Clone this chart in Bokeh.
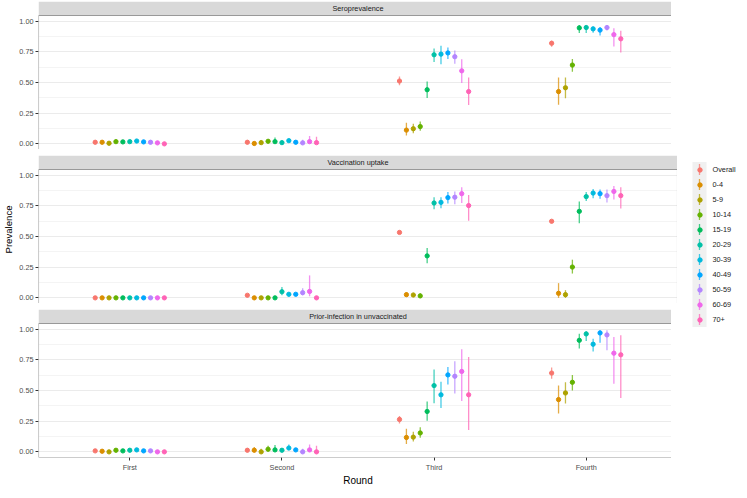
from bokeh.plotting import figure
from bokeh.layouts import column, row
from bokeh.models import (FactorRange, Range1d, FixedTicker, NumeralTickFormatter,
                          BoxAnnotation, Label, Legend, LegendItem, ColumnDataSource)
from bokeh.transform import dodge
from bokeh.embed import file_html
from bokeh.resources import INLINE

# ---------------- data ----------------
rounds = ["First", "Second", "Third", "Fourth"]
groups = ["Overall", "0-4", "5-9", "10-14", "15-19", "20-29", "30-39",
          "40-49", "50-59", "60-69", "70+"]
colors = ["#F8766D", "#DB8E00", "#AEA200", "#64B200", "#00BD5C", "#00C1A7",
          "#00BADE", "#00A6FF", "#B385FF", "#EF67EB", "#FF63B6"]
facet_titles = ["Seroprevalence", "Vaccination uptake", "Prior-infection in unvaccinated"]
y_ticks = [0.0, 0.25, 0.5, 0.75, 1.0]
y_minor = [0.125, 0.375, 0.625, 0.875]

# rows = groups, columns = rounds
sero_est = [
    [0.013, 0.013, 0.512, 0.820],
    [0.013, 0.003, 0.112, 0.426],
    [0.005, 0.010, 0.123, 0.457],
    [0.018, 0.021, 0.141, 0.642],
    [0.016, 0.018, 0.441, 0.945],
    [0.018, 0.010, 0.726, 0.948],
    [0.023, 0.026, 0.731, 0.937],
    [0.016, 0.013, 0.741, 0.927],
    [0.013, 0.008, 0.710, 0.948],
    [0.008, 0.018, 0.595, 0.890],
    [0.000, 0.010, 0.426, 0.856],
]
sero_lo = [
    [0.009, 0.009, 0.478, 0.791],
    [0.006, 0.000, 0.068, 0.319],
    [0.000, 0.003, 0.086, 0.371],
    [0.010, 0.010, 0.107, 0.587],
    [0.008, 0.007, 0.373, 0.903],
    [0.011, 0.004, 0.668, 0.903],
    [0.014, 0.016, 0.648, 0.906],
    [0.009, 0.007, 0.692, 0.883],
    [0.005, 0.000, 0.653, 0.924],
    [0.002, 0.003, 0.496, 0.794],
    [0.000, 0.000, 0.316, 0.744],
]
sero_hi = [
    [0.018, 0.018, 0.548, 0.841],
    [0.020, 0.010, 0.172, 0.540],
    [0.012, 0.029, 0.164, 0.540],
    [0.028, 0.039, 0.183, 0.692],
    [0.028, 0.052, 0.509, 0.969],
    [0.027, 0.018, 0.778, 0.966],
    [0.033, 0.039, 0.799, 0.956],
    [0.024, 0.021, 0.786, 0.953],
    [0.024, 0.034, 0.760, 0.966],
    [0.018, 0.063, 0.689, 0.943],
    [0.008, 0.057, 0.540, 0.922],
]

vacc_est = [
    [0.0, 0.021, 0.533, 0.624],
    [0.0, 0.000, 0.026, 0.037],
    [0.0, 0.000, 0.023, 0.026],
    [0.0, 0.000, 0.016, 0.251],
    [0.0, 0.000, 0.342, 0.705],
    [0.0, 0.050, 0.773, 0.825],
    [0.0, 0.029, 0.778, 0.854],
    [0.0, 0.029, 0.817, 0.849],
    [0.0, 0.042, 0.820, 0.833],
    [0.0, 0.052, 0.849, 0.867],
    [0.0, 0.000, 0.752, 0.833],
]
vacc_lo = [
    [0.0, 0.015, 0.520, 0.610],
    [0.0, 0.000, 0.008, 0.000],
    [0.0, 0.000, 0.008, 0.000],
    [0.0, 0.000, 0.000, 0.198],
    [0.0, 0.000, 0.282, 0.608],
    [0.0, 0.021, 0.723, 0.789],
    [0.0, 0.013, 0.731, 0.812],
    [0.0, 0.016, 0.768, 0.807],
    [0.0, 0.021, 0.762, 0.778],
    [0.0, 0.013, 0.773, 0.802],
    [0.0, 0.000, 0.629, 0.729],
]
vacc_hi = [
    [0.002, 0.028, 0.545, 0.637],
    [0.002, 0.003, 0.047, 0.120],
    [0.002, 0.003, 0.042, 0.063],
    [0.002, 0.003, 0.037, 0.311],
    [0.002, 0.003, 0.407, 0.786],
    [0.002, 0.089, 0.820, 0.862],
    [0.002, 0.044, 0.820, 0.888],
    [0.002, 0.042, 0.862, 0.883],
    [0.002, 0.078, 0.867, 0.883],
    [0.002, 0.183, 0.901, 0.911],
    [0.002, 0.003, 0.838, 0.901],
]

prior_est = [
    [0.008, 0.013, 0.264, 0.642],
    [0.005, 0.013, 0.117, 0.426],
    [0.000, 0.000, 0.120, 0.480],
    [0.013, 0.021, 0.154, 0.567],
    [0.008, 0.016, 0.329, 0.909],
    [0.013, 0.013, 0.540, 0.961],
    [0.016, 0.031, 0.465, 0.877],
    [0.008, 0.016, 0.627, 0.969],
    [0.008, 0.000, 0.616, 0.953],
    [0.000, 0.016, 0.655, 0.804],
    [0.000, 0.000, 0.465, 0.791],
]
prior_lo = [
    [0.004, 0.008, 0.232, 0.595],
    [0.000, 0.003, 0.065, 0.313],
    [0.000, 0.000, 0.084, 0.394],
    [0.006, 0.008, 0.115, 0.501],
    [0.002, 0.004, 0.253, 0.843],
    [0.006, 0.005, 0.397, 0.903],
    [0.007, 0.015, 0.358, 0.817],
    [0.003, 0.007, 0.548, 0.890],
    [0.002, 0.000, 0.475, 0.828],
    [0.000, 0.003, 0.415, 0.554],
    [0.000, 0.000, 0.178, 0.439],
]
prior_hi = [
    [0.013, 0.019, 0.292, 0.687],
    [0.012, 0.040, 0.188, 0.540],
    [0.006, 0.025, 0.164, 0.567],
    [0.022, 0.050, 0.201, 0.627],
    [0.020, 0.055, 0.410, 0.963],
    [0.022, 0.024, 0.671, 0.982],
    [0.030, 0.060, 0.572, 0.922],
    [0.016, 0.028, 0.692, 0.992],
    [0.020, 0.025, 0.739, 0.992],
    [0.008, 0.060, 0.836, 0.935],
    [0.006, 0.050, 0.773, 0.950],
]

facet_data = [(sero_est, sero_lo, sero_hi),
              (vacc_est, vacc_lo, vacc_hi),
              (prior_est, prior_lo, prior_hi)]

# ---------------- layout constants ----------------
FONT = "Liberation Sans"
FW = 639            # panel width
PANEL_H = 134
STRIP_H = 14
GAP = 6
TOP = 1
LEFT = 32
BOTTOM = 25
Y0, YP = -0.046, 1.046
YTOP = YP + (YP - Y0) * STRIP_H / PANEL_H
DODGE = 0.5
PT_SIZE = 4.3
LINE_W = 1.3
LINE_A = 0.72


def make_facet(k):
    first = k == 0
    last = k == len(facet_titles) - 1
    est, lo, hi = facet_data[k]
    p = figure(x_range=FactorRange(factors=rounds, range_padding=0.05),
               y_range=Range1d(Y0, YTOP),
               frame_width=FW, frame_height=PANEL_H + STRIP_H,
               output_backend="svg", toolbar_location=None,
               x_axis_location="below" if last else None,
               min_border_left=LEFT, min_border_right=0,
               min_border_top=TOP if first else GAP,
               min_border_bottom=BOTTOM if last else 0)
    p.outline_line_color = None
    p.background_fill_color = "white"
    p.border_fill_color = "white"

    n = len(groups)
    for i in range(n):
        src = ColumnDataSource(dict(round=rounds, est=est[i], lo=lo[i], hi=hi[i]))
        off = (i - (n - 1) / 2) * DODGE / n
        xd = dodge("round", off, range=p.x_range)
        p.segment(x0=xd, y0="lo", x1=xd, y1="hi", source=src,
                  line_color=colors[i], line_width=LINE_W, line_alpha=LINE_A)
        p.scatter(x=xd, y="est", source=src, size=PT_SIZE,
                  fill_color=colors[i], line_color=colors[i])

    # grid
    p.xgrid.visible = False
    p.ygrid.grid_line_color = "#EBEBEB"
    p.ygrid.grid_line_width = 1
    p.ygrid.minor_grid_line_color = "#F4F4F4"
    p.ygrid.minor_grid_line_width = 1

    # y axis
    ya = p.yaxis[0]
    ya.ticker = FixedTicker(ticks=y_ticks, minor_ticks=y_minor)
    ya.formatter = NumeralTickFormatter(format="0.00")
    ya.axis_line_color = None
    ya.minor_tick_line_color = None
    ya.major_tick_out = 3
    ya.major_tick_in = 0
    ya.major_tick_line_color = "#333333"
    ya.major_label_standoff = 1
    ya.major_label_text_font = FONT
    ya.major_label_text_font_size = "7.3px"
    ya.major_label_text_color = "#4D4D4D"
    if k == 1:
        ya.axis_label = "Prevalence"
        ya.axis_label_text_font = FONT
        ya.axis_label_text_font_size = "9.6px"
        ya.axis_label_text_font_style = "normal"
        ya.axis_label_text_color = "#000000"
        ya.axis_label_standoff = 2

    if last:
        xa = p.xaxis[0]
        xa.axis_line_color = None
        xa.major_tick_out = 3
        xa.major_tick_in = 0
        xa.major_tick_line_color = "#333333"
        xa.major_label_standoff = 2
        xa.major_label_text_font = FONT
        xa.major_label_text_font_size = "7.3px"
        xa.major_label_text_color = "#4D4D4D"
        xa.axis_label = "Round"
        xa.axis_label_text_font = FONT
        xa.axis_label_text_font_size = "10px"
        xa.axis_label_text_font_style = "normal"
        xa.axis_label_text_color = "#000000"
        xa.axis_label_standoff = 0

    # strip and panel border
    p.add_layout(BoxAnnotation(bottom=YP, fill_color="#D9D9D9", fill_alpha=1.0,
                               line_color=None))
    p.add_layout(BoxAnnotation(top=YP, fill_color=None, fill_alpha=0.0,
                               line_color="#999999", line_alpha=1.0, line_width=1.1))
    p.add_layout(Label(x=len(rounds) / 2, y=(YP + YTOP) / 2, text=facet_titles[k],
                       text_align="center", text_baseline="middle",
                       text_font=FONT, text_font_size="7.3px",
                       text_color="#1A1A1A"))
    return p


facets = [make_facet(k) for k in range(len(facet_titles))]
HTOT = TOP + (PANEL_H + STRIP_H) * 3 + GAP * 2 + BOTTOM

# ---------------- legend ----------------
LW = 60
KEY_X = 15          # left edge of key column
KEY_W = 14
ITEM_H = 15
GLYPH_W = 11
LABEL_GAP = 6
LEG_CENTER_FROM_TOP = 244
n = len(groups)
leg_h = ITEM_H * n
LEG_BOTTOM = HTOT - (LEG_CENTER_FROM_TOP + leg_h / 2)
key_cx = KEY_X + KEY_W / 2
leg_x = key_cx - GLYPH_W / 2
standoff = int(round(KEY_X + KEY_W + LABEL_GAP - (leg_x + GLYPH_W)))

lf = figure(width=LW, height=HTOT, x_range=Range1d(0, LW), y_range=Range1d(0, HTOT),
            output_backend="svg", toolbar_location=None,
            x_axis_location=None, y_axis_location=None, min_border=0)
lf.outline_line_color = None
lf.grid.visible = False

# key background column
lf.quad(left=KEY_X, right=KEY_X + KEY_W, bottom=LEG_BOTTOM, top=LEG_BOTTOM + leg_h,
        fill_color="#F0F0F0", line_color=None)

# vertical line of each key (pointrange look)
key_cy = [LEG_BOTTOM + leg_h - (i + 0.5) * ITEM_H for i in range(n)]
lf.segment(x0=[key_cx] * n, x1=[key_cx] * n,
           y0=[c - 5.5 for c in key_cy], y1=[c + 5.5 for c in key_cy],
           line_color=colors, line_width=LINE_W, line_alpha=LINE_A)

items = []
for i, g in enumerate(groups):
    src = ColumnDataSource(dict(x=[-1000], y=[-1000]))
    r = lf.scatter(x="x", y="y", size=PT_SIZE, fill_color=colors[i],
                   line_color=colors[i], source=src)
    items.append(LegendItem(label=g, renderers=[r]))

leg = Legend(items=items, location=(leg_x, LEG_BOTTOM),
             orientation="vertical",
             glyph_width=GLYPH_W, glyph_height=ITEM_H, label_height=ITEM_H,
             label_width=10, label_standoff=standoff,
             spacing=0, padding=0, margin=0,
             border_line_color=None, background_fill_alpha=0.0,
             label_text_font=FONT, label_text_font_size="7.3px",
             label_text_color="#1A1A1A")
lf.add_layout(leg)

p = row(column(*facets), lf)
open("out.html", "w").write(file_html(p, INLINE))
